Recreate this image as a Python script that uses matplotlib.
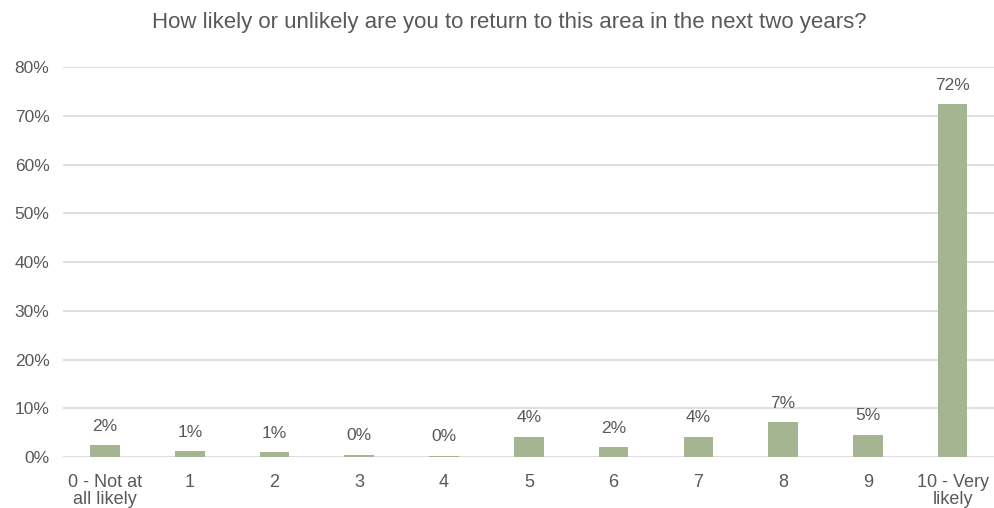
import matplotlib.pyplot as plt
from matplotlib.ticker import FuncFormatter

plt.rcParams['font.family'] = ['Liberation Sans', 'DejaVu Sans']

categories = ['0 - Not at\nall likely', '1', '2', '3', '4', '5', '6', '7', '8', '9', '10 - Very\nlikely']
values = [2.4, 1.2, 1.0, 0.5, 0.3, 4.2, 2.0, 4.2, 7.2, 4.6, 72.4]
labels = ['2%', '1%', '1%', '0%', '0%', '4%', '2%', '4%', '7%', '5%', '72%']

text_col = '#595959'
bar_col = '#A5B592'
grid_col = '#D9D9D9'

fig = plt.figure(figsize=(9.95, 5.08), dpi=100)
ax = fig.add_axes([0.063, 0.1004, 0.937, 0.7676])

x = range(len(categories))
bars = ax.bar(x, values, width=0.35, color=bar_col, zorder=3)

for b, lab in zip(bars, labels):
    ax.annotate(lab, (b.get_x() + b.get_width() / 2, b.get_height()),
                xytext=(0, 8), textcoords='offset points',
                ha='center', va='bottom', fontsize=12.5, color=text_col)

ax.set_ylim(0, 80)
ax.set_xlim(-0.5, len(categories) - 0.5)
ax.set_yticks(range(0, 81, 10))
ax.yaxis.set_major_formatter(FuncFormatter(lambda v, p: f'{v:.0f}%'))
ax.set_xticks(list(x))
ax.set_xticklabels(categories, linespacing=1.03, fontsize=13)
ax.tick_params(axis='both', length=0, labelcolor=text_col)
ax.tick_params(axis='y', pad=9.5, labelsize=12.5)
ax.tick_params(axis='x', pad=12)
ax.grid(axis='y', color=grid_col, linewidth=1.2, zorder=0)
for s in ax.spines.values():
    s.set_visible(False)

fig.text(0.512, 0.955, 'How likely or unlikely are you to return to this area in the next two years?',
         ha='center', va='center', fontsize=16, color=text_col)

fig.savefig('out.png', dpi=100)
